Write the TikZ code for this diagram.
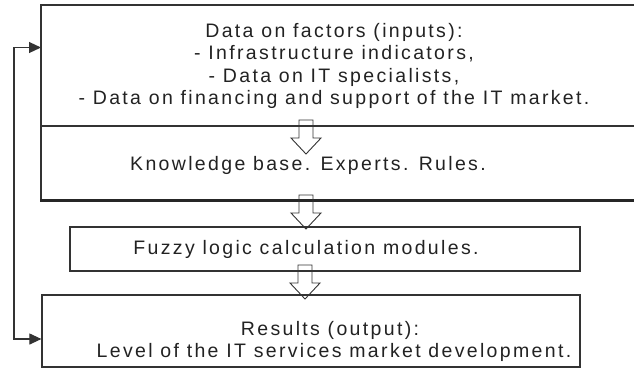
\documentclass[tikz,border=0pt]{standalone}
\usepackage{fontspec}
\newfontfamily\dfont{Liberation Sans}[LetterSpace=12]
\usetikzlibrary{arrows.meta}
\definecolor{ln}{HTML}{333333}
\definecolor{txt}{HTML}{222222}
\tikzset{
  boxline/.style={draw=ln, line width=1.2pt},
  thickline/.style={draw=black!85, line width=3pt},
  lbl/.style={font={\dfont\fontsize{19.5}{22.5}\selectfont}, text=txt, inner sep=0pt, align=center},
  harrow/.pic={\draw[ln, line width=0.9pt, line join=miter]
    (-7,0) -- (-7,18) -- (-15,18) -- (0,34) -- (15,18) -- (7,18) -- (7,0) -- cycle;},
  fb/.style={draw=ln, line width=1.1pt, {Triangle[length=12pt,width=11pt]}-{Triangle[length=12pt,width=11pt]}}
}
\begin{document}
\begin{tikzpicture}[x=1pt,y=-1pt]
\useasboundingbox (0,0) rectangle (634,368);
% big box (open on the right)
\draw[boxline] (634,5) -- (41,5) -- (41,200);
\draw[boxline] (41,126) -- (634,126);
\draw[thickline] (40,200.5) -- (634,200.5);
\node[lbl] (inputs) at (334,66) {Data on factors (inputs):\\- Infrastructure indicators,\\- Data on IT specialists,\\- Data on financing and support of the IT market.};
\node[lbl, anchor=base] (kb) at (308,170) {Knowledge base. Experts. Rules.};
% fuzzy box
\node[boxline, minimum width=510pt, minimum height=44pt, inner sep=0pt] (fuzzy) at (325,249) {};
\node[lbl, anchor=base] (fuzzytxt) at (306,254) {Fuzzy logic calculation modules.};
% results box
\node[boxline, minimum width=538pt, minimum height=72pt, inner sep=0pt] (res) at (311,331) {};
\node[lbl, anchor=base] (restxt) at (330,335) {Results (output):};
\node[lbl, anchor=base] (restxt2) at (334,357) {Level of the IT services market development.};
% hollow arrows
\pic at (306,120) {harrow};
\pic at (306,195) {harrow};
\pic at (305,265) {harrow};
% feedback
\coordinate (bigin) at (41,47.5);
\coordinate (c1) at (14,47.5);
\coordinate (c2) at (14,339);
\draw[fb] (res.west |- c2) -- (c2) -- (c1) -- (bigin);
\end{tikzpicture}
\end{document}
